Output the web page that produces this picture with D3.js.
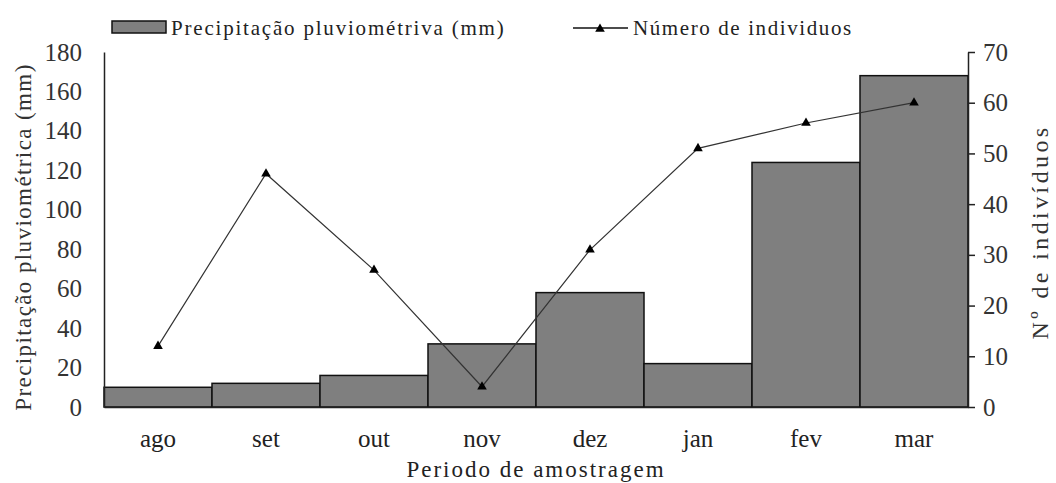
<!DOCTYPE html>
<html>
<head>
<meta charset="utf-8">
<script src="https://cdn.jsdelivr.net/npm/d3@7"></script>
<style>
  body { margin: 0; background: #fff; }
</style>
</head>
<body>
<svg id="chart" width="1056" height="483"></svg>
<script>
const months = ['ago', 'set', 'out', 'nov', 'dez', 'jan', 'fev', 'mar'];
const rainfall = [10, 12, 16, 32, 58, 22, 124, 168];
const individuals = [12, 46, 27, 4, 31, 51, 56, 60];
const leftTicks = [0, 20, 40, 60, 80, 100, 120, 140, 160, 180];
const rightTicks = [0, 10, 20, 30, 40, 50, 60, 70];

const FONT = "'Liberation Serif', 'Times New Roman', Tinos, 'DejaVu Serif', serif";

const svg = d3.select('#chart');
const m = { left: 104, right: 968, top: 52, bottom: 407 };

const x = d3.scaleBand().domain(months).range([m.left, m.right]).padding(0);
const yL = d3.scaleLinear().domain([0, 180]).range([m.bottom, m.top]);
const yR = d3.scaleLinear().domain([0, 70]).range([m.bottom, m.top]);

// barras
svg.append('g')
  .selectAll('rect')
  .data(rainfall)
  .enter()
  .append('rect')
  .attr('x', (d, i) => x(months[i]))
  .attr('y', d => yL(d))
  .attr('width', x.bandwidth())
  .attr('height', d => yL(0) - yL(d))
  .attr('fill', '#7f7f7f')
  .attr('stroke', '#111')
  .attr('stroke-width', 1.5);

// eixo esquerdo
const axL = svg.append('g')
  .attr('transform', `translate(${m.left},0)`)
  .call(d3.axisLeft(yL).tickValues(leftTicks).tickSize(0).tickPadding(22));
axL.select('.domain').attr('stroke', '#222').attr('stroke-width', 1.5);
axL.selectAll('text').style('font-size', '25px').style('font-family', FONT).attr('fill', '#333');

// eixo direito
const axR = svg.append('g')
  .attr('transform', `translate(${m.right},0)`)
  .call(d3.axisRight(yR).tickValues(rightTicks).tickSize(7).tickSizeOuter(0).tickPadding(8));
axR.select('.domain').attr('stroke', '#222').attr('stroke-width', 1.5);
axR.selectAll('line').attr('stroke', '#222').attr('stroke-width', 1.5);
axR.selectAll('text').style('font-size', '25px').style('font-family', FONT).attr('fill', '#333');

// eixo x
const axB = svg.append('g')
  .attr('transform', `translate(0,${m.bottom})`)
  .call(d3.axisBottom(x).tickSize(0).tickPadding(22));
axB.select('.domain').attr('stroke', '#222').attr('stroke-width', 1.5);
axB.selectAll('text').style('font-size', '25px').style('font-family', FONT).attr('fill', '#222');

// linha
const line = d3.line()
  .x((d, i) => x(months[i]) + x.bandwidth() / 2)
  .y(d => yR(d));
svg.append('path')
  .datum(individuals)
  .attr('d', line)
  .attr('fill', 'none')
  .attr('stroke', '#333')
  .attr('stroke-width', 1.2);

const tri = d3.symbol().type(d3.symbolTriangle).size(40);
svg.append('g')
  .selectAll('path')
  .data(individuals)
  .enter()
  .append('path')
  .attr('d', tri)
  .attr('transform', (d, i) => `translate(${x(months[i]) + x.bandwidth() / 2},${yR(d)})`)
  .attr('fill', '#000');

// títulos
const label = (sel, size, spacing) => sel
  .style('font-family', FONT)
  .style('font-size', size + 'px')
  .style('letter-spacing', spacing + 'px');

svg.append('text')
  .attr('transform', 'translate(31,237) rotate(-90)')
  .attr('text-anchor', 'middle')
  .attr('fill', '#333')
  .call(label, 23, 1.4)
  .text('Precipitação pluviométrica (mm)');

svg.append('text')
  .attr('transform', 'translate(1048,232) rotate(-90)')
  .attr('text-anchor', 'middle')
  .attr('fill', '#333')
  .call(label, 24, 3.4)
  .text('Nº de indivíduos');

svg.append('text')
  .attr('x', 536)
  .attr('y', 477)
  .attr('text-anchor', 'middle')
  .attr('fill', '#222')
  .call(label, 23, 2)
  .text('Periodo de amostragem');

// legenda
const lg = svg.append('g');
lg.append('rect')
  .attr('x', 112).attr('y', 21).attr('width', 54).attr('height', 12)
  .attr('fill', '#7f7f7f').attr('stroke', '#111').attr('stroke-width', 1.5);
lg.append('text')
  .attr('x', 171).attr('y', 35)
  .attr('fill', '#222')
  .call(label, 21, 1.8)
  .text('Precipitação pluviométriva (mm)');
lg.append('line')
  .attr('x1', 573).attr('x2', 628).attr('y1', 28).attr('y2', 28)
  .attr('stroke', '#111').attr('stroke-width', 1.5);
lg.append('path')
  .attr('d', tri)
  .attr('transform', 'translate(600,29)')
  .attr('fill', '#000');
lg.append('text')
  .attr('x', 633).attr('y', 35)
  .attr('fill', '#222')
  .call(label, 21, 1.6)
  .text('Número de individuos');
</script>
</body>
</html>
